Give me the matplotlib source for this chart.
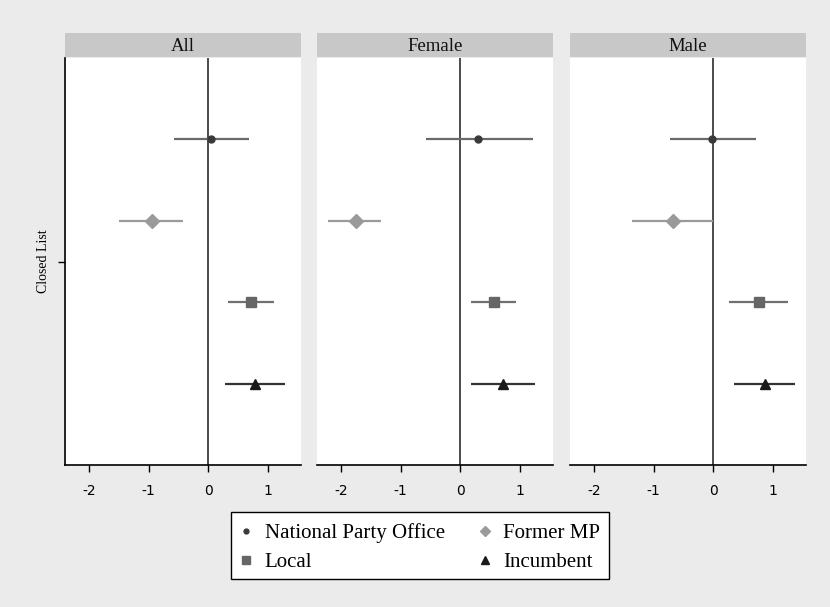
import matplotlib.pyplot as plt
from matplotlib.lines import Line2D
from matplotlib.patches import Rectangle

# panels and series
panels = ["All", "Female", "Male"]
series = ["National Party Office", "Former MP", "Local", "Incumbent"]
row_label = "Closed List"

# point estimates per panel (All, Female, Male)
est = {
    "National Party Office": [0.05, 0.30, -0.03],
    "Former MP": [-0.94, -1.75, -0.67],
    "Local": [0.71, 0.57, 0.77],
    "Incumbent": [0.78, 0.72, 0.87],
}
lo = {
    "National Party Office": [-0.57, -0.58, -0.73],
    "Former MP": [-1.49, -2.22, -1.36],
    "Local": [0.32, 0.18, 0.26],
    "Incumbent": [0.27, 0.18, 0.34],
}
hi = {
    "National Party Office": [0.68, 1.21, 0.71],
    "Former MP": [-0.43, -1.33, 0.0],
    "Local": [1.09, 0.93, 1.25],
    "Incumbent": [1.29, 1.25, 1.36],
}
xticks = [-2, -1, 0, 1]

# styles
offsets = {"National Party Office": 0.3, "Former MP": 0.1, "Local": -0.1, "Incumbent": -0.3}
markers = {"National Party Office": "o", "Former MP": "D", "Local": "s", "Incumbent": "^"}
msizes = {"National Party Office": 5, "Former MP": 7, "Local": 7, "Incumbent": 7}
mcolors = {"National Party Office": "#3a3a3a", "Former MP": "#9a9a9a", "Local": "#666666", "Incumbent": "#1a1a1a"}
lcolors = {"National Party Office": "#6a6a6a", "Former MP": "#9a9a9a", "Local": "#707070", "Incumbent": "#333333"}

bg = "#ebebeb"
serif = ["Liberation Serif", "DejaVu Serif"]

fig = plt.figure(figsize=(8.3, 6.07), dpi=100, facecolor=bg)
W, H = 830, 607
lefts = [65, 317, 570]
pw = 236
top, bottom = 58, 465

for i, name in enumerate(panels):
    ax = fig.add_axes([lefts[i] / W, 1 - bottom / H, pw / W, (bottom - top) / H])
    ax.set_facecolor("white")
    ax.axvline(0, color="#1a1a1a", lw=1.1, zorder=1)
    for s in series:
        y = 1 + offsets[s]
        ax.hlines(y, lo[s][i], hi[s][i], color=lcolors[s], lw=1.6, zorder=2)
        ax.plot(est[s][i], y, marker=markers[s], ms=msizes[s], color=mcolors[s],
                linestyle="none", zorder=3)
    ax.set_xlim(-2.4, 1.55)
    ax.set_ylim(0.5, 1.5)
    ax.set_xticks(xticks)
    ax.set_xticklabels([str(t) for t in xticks], fontsize=10, family=["DejaVu Sans"])
    ax.tick_params(axis="x", direction="out", length=5, width=1, pad=9)
    for sp in ["top", "right"]:
        ax.spines[sp].set_visible(False)
    ax.spines["bottom"].set_linewidth(1.2)
    if i == 0:
        ax.set_yticks([1])
        ax.set_yticklabels([row_label], rotation=90, va="center", fontsize=10, family=serif)
        ax.tick_params(axis="y", direction="out", length=5, width=1, pad=6)
        ax.spines["left"].set_linewidth(1.2)
    else:
        ax.set_yticks([])
        ax.spines["left"].set_visible(False)
    # header strip
    strip = fig.add_axes([lefts[i] / W, 1 - 57 / H, pw / W, 24 / H])
    strip.set_facecolor("#c8c8c8")
    strip.set_xticks([])
    strip.set_yticks([])
    for sp in strip.spines.values():
        sp.set_visible(False)
    strip.text(0.5, 0.45, name, ha="center", va="center", fontsize=13.5, family=serif,
               color="#111111", transform=strip.transAxes)

# legend box
fig.patches.append(Rectangle((231 / W, 1 - 579 / H), 378 / W, 67 / H,
                             transform=fig.transFigure, facecolor="white",
                             edgecolor="black", lw=1.0, zorder=0))

handles = [Line2D([], [], marker=markers[s], color=mcolors[s], linestyle="none",
                  ms=msizes[s] - 1.5) for s in series]
order = [0, 2, 1, 3]
leg = fig.legend([handles[k] for k in order], [series[k] for k in order], ncol=2,
                 loc="center", bbox_to_anchor=(419 / W, 1 - 548 / H),
                 prop={"family": serif, "size": 15}, frameon=False,
                 columnspacing=1.5, handletextpad=0.5, handlelength=0.8,
                 borderpad=0.3, labelspacing=0.45, borderaxespad=0)

fig.savefig("out.png", dpi=100, facecolor=bg)
